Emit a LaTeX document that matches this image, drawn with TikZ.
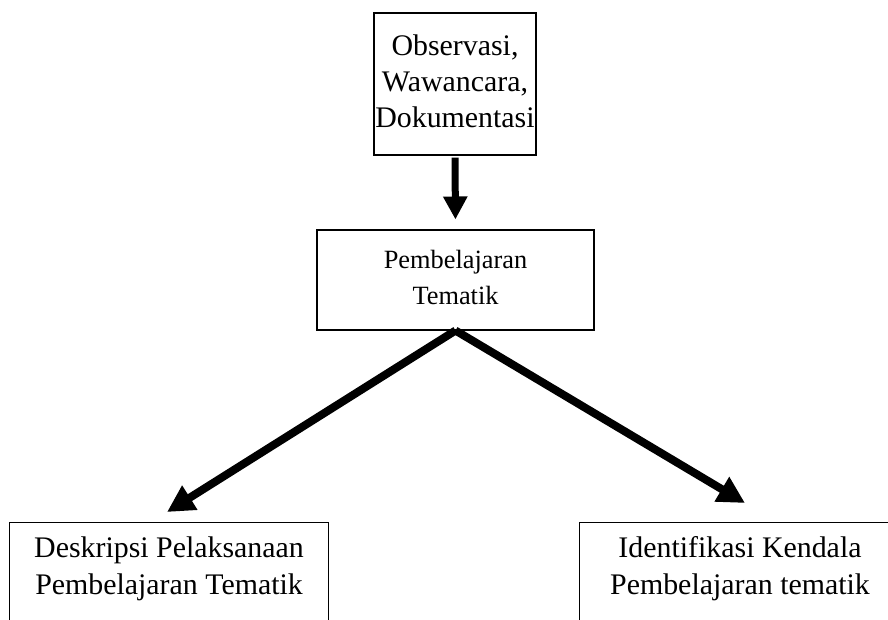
\documentclass[tikz,border=0pt]{standalone}
\usepackage{fontspec}
\setmainfont{Liberation Serif}
\usetikzlibrary{arrows.meta}

\tikzset{
  box/.style={draw, line width=0.6pt, align=center, inner xsep=0pt},
  openbox/.style={align=center, inner xsep=0pt, minimum height=2.34cm,
    font=\fontsize{17}{21}\selectfont, text depth=0.64cm},
  downarrow/.style={line width=0.14cm, -{Triangle[width=0.46cm,length=0.46cm]}},
  sidearrow/.style={line width=0.16cm, -{Triangle[width=0.54cm,length=0.54cm]}}
}

\begin{document}
\begin{tikzpicture}
\useasboundingbox (0,0) rectangle (17.76,-12.38);

\node[box, minimum width=3.24cm, minimum height=2.84cm,
  font=\fontsize{17}{20.5}\selectfont, text depth=0.12cm]
  (obs) at (9.1,-1.68) {Observasi,\\ Wawancara,\\ Dokumentasi};

\node[box, minimum width=5.54cm, minimum height=2cm,
  font=\fontsize{15}{20.5}\selectfont, text depth=0.12cm]
  (pt) at (9.11,-5.6) {Pembelajaran\\ Tematik};

\node[openbox, minimum width=6.36cm] (dl) at (3.38,-11.63)
  {Deskripsi Pelaksanaan\\ Pembelajaran Tematik};
\node[openbox, minimum width=6.4cm] (dr) at (14.8,-11.63)
  {Identifikasi Kendala\\ Pembelajaran tematik};

% the lower boxes run off the page
\draw[line width=0.6pt] (dl.south west) -- (dl.north west) -- (dl.north east) -- (dl.south east);
\draw[line width=0.6pt] (dr.south west) -- (dr.north west) -- (dr.north east);

\coordinate (tl) at (3.34,-10.24);
\coordinate (tr) at (14.9,-10.06);

\draw[downarrow, shorten <=0.04cm, shorten >=0.2cm] (obs.south) -- (pt.north);
\draw[sidearrow] (pt.south) -- (tl);
\draw[sidearrow] (pt.south) -- (tr);
\end{tikzpicture}
\end{document}
